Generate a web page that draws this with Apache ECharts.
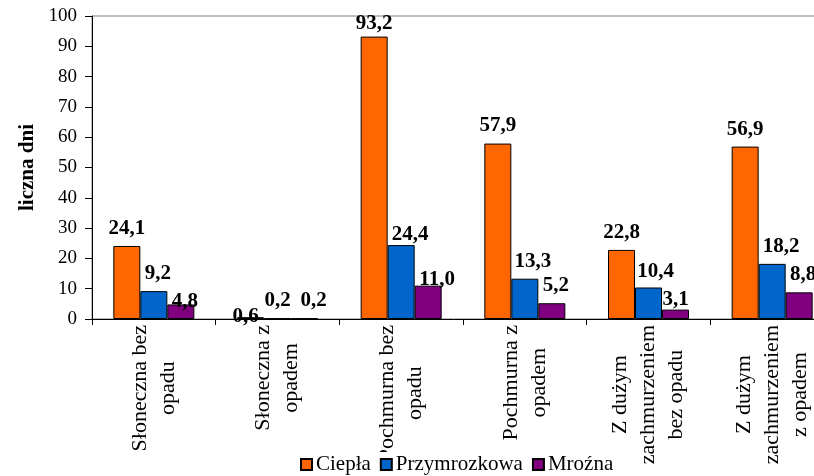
<!DOCTYPE html>
<html>
<head>
<meta charset="utf-8">
<script src="https://cdn.jsdelivr.net/npm/echarts@6/dist/echarts.min.js"></script>
<style>
  html, body { margin: 0; padding: 0; background: #ffffff; }
  #chart { width: 814px; height: 476px; }
</style>
</head>
<body>
<div id="chart"></div>
<script>
// Weather-type day counts per air-mass class
const categories = [
  'Słoneczna bez\nopadu',
  'Słoneczna z\nopadem',
  'Pochmurna bez\nopadu',
  'Pochmurna z\nopadem',
  'Z dużym\nzachmurzeniem\nbez opadu',
  'Z dużym\nzachmurzeniem\nz opadem'
];
const seriesNames = ['Ciepła', 'Przymrozkowa', 'Mroźna'];
const ciepla = [24.1, 0.6, 93.2, 57.9, 22.8, 56.9];
const przymrozkowa = [9.2, 0.2, 24.4, 13.3, 10.4, 18.2];
const mrozna = [4.8, 0.2, 11.0, 5.2, 3.1, 8.8];
const yTicks = { min: 0, max: 100, step: 10 };
const yTitle = 'liczna dni';

// Hand-placed value labels: [series][category] -> [dx, dy] in pixels
const labelNudge = {
  0: { 1: [-5, 17], 2: [0, 4] },
  1: { 0: [4, 0], 2: [9, 7], 3: [8, 0], 4: [7, 2], 5: [9, 0] },
  2: { 0: [4, 15], 1: [9, 0], 2: [9, 11], 3: [4, 0], 4: [0, 7], 5: [4, 0] }
};

const colors = ['#FF6600', '#0066CC', '#800080'];
const serif = '"Liberation Serif", "Times New Roman", serif';
const fmt = v => v.toFixed(1).replace('.', ',');

function buildSeries(name, values, idx) {
  return {
    name: name,
    type: 'bar',
    barWidth: 27,
    barGap: '0%',
    itemStyle: { color: colors[idx], borderColor: '#000', borderWidth: 1 },
    label: {
      show: true,
      position: 'top',
      distance: 7,
      color: '#000',
      fontFamily: serif,
      fontWeight: 'bold',
      fontSize: 21,
      formatter: p => fmt(p.value)
    },
    data: values.map((v, i) => {
      const n = (labelNudge[idx] || {})[i];
      return n ? { value: v, label: { offset: n } } : v;
    })
  };
}

const chart = echarts.init(document.getElementById('chart'), null, { renderer: 'canvas' });
chart.setOption({
  animation: false,
  backgroundColor: '#ffffff',
  textStyle: { fontFamily: serif, color: '#000' },
  grid: {
    left: 92, top: 16, width: 742, bottom: 157,
    outerBoundsMode: 'none',
    show: true, borderColor: '#808080', borderWidth: 1, backgroundColor: 'transparent'
  },
  legend: {
    top: 452,
    left: 298,
    padding: [2, 4, 6, 2],
    backgroundColor: '#ffffff',
    icon: 'rect',
    itemWidth: 11,
    itemHeight: 11,
    itemGap: 9,
    textStyle: { fontFamily: serif, fontSize: 21, color: '#000', padding: [0, 0, 0, -1] },
    data: seriesNames
  },
  xAxis: {
    type: 'category',
    data: categories,
    boundaryGap: true,
    axisLine: { lineStyle: { color: '#000', width: 1 } },
    axisTick: { show: true, length: 6, lineStyle: { color: '#000' } },
    axisLabel: {
      interval: 0,
      rotate: 90,
      margin: 6,
      color: '#000',
      formatter: v => v.split('\n').map(l => '{c|' + l + '}').join('\n'),
      rich: {
        c: { align: 'center', fontFamily: serif, fontSize: 22, lineHeight: 28, color: '#000' }
      }
    },
    splitLine: { show: false }
  },
  yAxis: {
    type: 'value',
    min: yTicks.min,
    max: yTicks.max,
    interval: yTicks.step,
    name: yTitle,
    nameLocation: 'middle',
    nameGap: 52,
    nameRotate: 90,
    nameTextStyle: { fontFamily: serif, fontWeight: 'bold', fontSize: 21, color: '#000' },
    axisLine: { show: true, lineStyle: { color: '#000', width: 1 } },
    axisTick: { show: true, length: 7, lineStyle: { color: '#000' } },
    axisLabel: { margin: 15, fontFamily: serif, fontSize: 19, color: '#000' },
    splitLine: { show: false }
  },
  series: [
    buildSeries(seriesNames[0], ciepla, 0),
    buildSeries(seriesNames[1], przymrozkowa, 1),
    buildSeries(seriesNames[2], mrozna, 2)
  ]
});
</script>
</body>
</html>
